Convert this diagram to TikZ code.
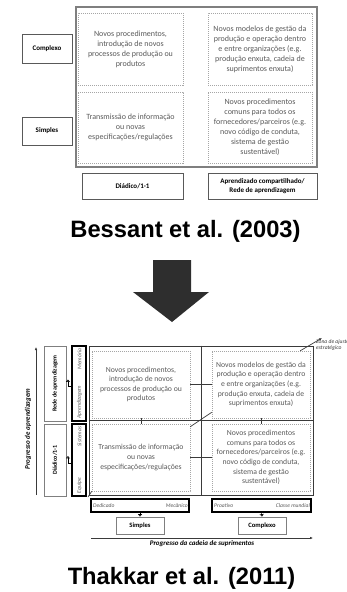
\documentclass[tikz,border=0pt]{standalone}
\usepackage{fontspec}
\setmainfont{Carlito}
\newfontfamily\titlefont{Liberation Sans}
\usetikzlibrary{arrows.meta}

\definecolor{celltext}{HTML}{595959}
\definecolor{dashgray}{HTML}{A6A6A6}
\definecolor{framegray}{HTML}{7F7F7F}
\definecolor{gridline}{HTML}{3A3A3A}
\definecolor{arrowfill}{HTML}{2E2E2E}

\begin{document}
\begin{tikzpicture}[x=1pt,y=-1pt,
  cell/.style={draw=dashgray, dash pattern=on 1.2pt off 0.8pt, line width=0.5pt,
    text=celltext, align=center, inner sep=0pt, font=\fontsize{8}{10}\selectfont},
  cellB/.style={cell, font=\fontsize{7.7}{9.6}\selectfont},
  outerframe/.style={draw=framegray, line width=1.4pt, inner sep=0pt},
  labelbox/.style={draw=celltext, line width=0.8pt, inner sep=0pt, align=center,
    font=\bfseries\fontsize{7}{8.5}\selectfont},
  sidebox/.style={draw=framegray, line width=0.8pt, inner sep=0pt},
  scalebox/.style={draw=black, line width=1.1pt, inner sep=0pt},
  sidetext/.style={rotate=90, inner sep=0pt, font=\bfseries\fontsize{6}{7}\selectfont},
  scaletext/.style={inner sep=0pt, text=celltext, font=\itshape\fontsize{5.6}{6.5}\selectfont},
  levelbox/.style={draw=framegray, line width=0.9pt, inner sep=0pt,
    font=\bfseries\fontsize{6.6}{8}\selectfont},
  axislabel/.style={inner sep=0pt, font=\bfseries\itshape\fontsize{7}{8}\selectfont},
  gridframe/.style={draw=gridline, line width=0.9pt, inner sep=0pt},
  link/.style={draw=gridline, line width=0.7pt},
  turnarrow/.style={draw=black, line width=0.6pt, -{Triangle[open,length=2.4pt,width=4pt]}},
  axisarrow/.style={draw=gridline, line width=0.9pt, -{Latex[length=3pt,width=2.6pt]}},
  title/.style={inner sep=0pt, anchor=base, font=\titlefont\bfseries\fontsize{23.7}{26}\selectfont}
]
\useasboundingbox (0,0) rectangle (347,592);

% ---------- Bessant et al. (2003) ----------
\node[outerframe, minimum width=241pt, minimum height=160pt] (a-frame) at (196.5,87) {};
\node[cell, minimum width=105pt, minimum height=72pt] (a-tl) at (130.5,49)
  {Novos procedimentos,\\introdução de novos\\processos de produção ou\\produtos};
\node[cell, minimum width=104pt, minimum height=72pt] (a-tr) at (260,49)
  {Novos modelos de gestão da\\produção e operação dentro\\e entre organizações (e.g.\\produção enxuta, cadeia de\\suprimentos enxuta)};
\node[cell, minimum width=105pt, minimum height=71pt] (a-bl) at (130.5,127.5)
  {Transmissão de informação\\ou novas\\especificações/regulações};
\node[cell, minimum width=104pt, minimum height=71pt] (a-br) at (260,127.5)
  {Novos procedimentos\\comuns para todos os\\fornecedores/parceiros (e.g.\\novo código de conduta,\\sistema de gestão\\sustentável)};

\node[labelbox, minimum width=50pt, minimum height=29pt] (a-complex) at (47,48.5) {Complexo};
\node[labelbox, minimum width=50pt, minimum height=28pt] (a-simple) at (47,131) {Simples};
\node[labelbox, minimum width=101pt, minimum height=26pt] (a-dyad) at (132.5,186) {Diádico/1-1};
\node[labelbox, minimum width=109pt, minimum height=26pt] (a-net) at (262.5,186)
  {Aprendizado compartilhado/\\Rede de aprendizagem};

\node[title] (a-title) at (185.5,237) {Bessant et al. (2003)};

% ---------- transition arrow ----------
\fill[arrowfill] (153,260) -- (191,260) -- (191,292) -- (209,292) -- (172,322)
  -- (133,292) -- (153,292) -- cycle;

% ---------- Thakkar et al. (2011) ----------
\node[gridframe, minimum width=224pt, minimum height=149pt] (b-grid) at (201,420.5) {};
\draw[gridframe] (b-grid.north) -- (b-grid.south);
\draw[gridframe] (b-grid.west) -- (b-grid.east);

\node[cellB, minimum width=98pt, minimum height=67pt] (b-tl) at (141,384.5)
  {Novos procedimentos,\\introdução de novos\\processos de produção ou\\produtos};
\node[cellB, minimum width=98pt, minimum height=67pt] (b-tr) at (261,384.5)
  {Novos modelos de gestão da\\produção e operação dentro\\e entre organizações (e.g.\\produção enxuta, cadeia de\\suprimentos enxuta)};
\node[cellB, minimum width=98pt, minimum height=67pt] (b-bl) at (141,457.5)
  {Transmissão de informação\\ou novas\\especificações/regulações};
\node[cellB, minimum width=98pt, minimum height=67pt] (b-br) at (261,457.5)
  {Novos procedimentos\\comuns para todos os\\fornecedores/parceiros (e.g.\\novo código de conduta,\\sistema de gestão\\sustentável)};

% links between the cells
\draw[link] (b-tl.east) -- (b-tr.west);
\draw[link] (b-bl.east) -- (b-br.west);
\draw[link] (b-tl.south) -- (b-bl.north);
\draw[link] (b-tr.south) -- (b-br.north);
\draw[link] ([yshift=-3pt]b-bl.north east) -- ([yshift=6pt]b-tr.south west);

% strategic fit zone pointer
\coordinate (zone) at (322,338);
\draw[link, -{Latex[length=3pt,width=2.6pt]}] ([xshift=-10pt]b-tr.north east) -- (zone);
\node[inner sep=0pt, anchor=north west, align=left, text=gridline,
  font=\itshape\fontsize{5.6}{6.2}\selectfont] (zone-label) at (316,339.5)
  {Zona de ajuste\\estratégico};
\coordinate (corner) at (88,497);
\draw[link] (corner) -- (b-bl.south west);

% learning axis (left)
\coordinate (learn-start) at (36,495);
\coordinate (learn-end) at (36,347);
\draw[axisarrow] (learn-start) -- (learn-end);
\node[axislabel, rotate=90] (learn-label) at (28,429) {Progresso de aprendizagem};

\node[sidebox, minimum width=22pt, minimum height=75pt] (b-net) at (55,383.5) {};
\node[sidetext] (b-net-text) at (b-net) {Rede de aprendizagem};
\node[sidebox, minimum width=22pt, minimum height=72pt] (b-dyad) at (55,460) {};
\node[sidetext] (b-dyad-text) at (b-dyad) {Diádico/1-1};

\node[scalebox, minimum width=14pt, minimum height=75pt] (b-learnscale) at (79,383.5) {};
\node[scaletext, rotate=90, anchor=east] (b-memory) at (79.5,348.5) {Memória};
\node[scaletext, rotate=90, anchor=west] (b-learning) at (79.5,418.5) {Aprendizagem};
\node[scalebox, minimum width=14pt, minimum height=72pt] (b-teamscale) at (79,460) {};
\node[scaletext, rotate=90, anchor=east] (b-systems) at (79.5,426.5) {Sistemas};
\node[scaletext, rotate=90, anchor=west] (b-team) at (79.5,493.5) {Equipe};

\draw[turnarrow] ([yshift=-3pt]b-learnscale.west) -- ++(-3.5,0) -- ++(0,-7);
\draw[turnarrow] ([yshift=-3pt]b-teamscale.west) -- ++(-3.5,0) -- ++(0,-7);

% supply chain axis (bottom)
\node[scalebox, minimum width=98pt, minimum height=13pt] (b-simplescale) at (140,505.5) {};
\node[scaletext, anchor=west] (b-dedicated) at (93,505.5) {Dedicado};
\node[scaletext, anchor=east] (b-mechanical) at (188,505.5) {Mecânico};
\node[scalebox, minimum width=99pt, minimum height=13pt] (b-complexscale) at (261.5,505.5) {};
\node[scaletext, anchor=west] (b-proactive) at (214,505.5) {Proativo};
\node[scaletext, anchor=east] (b-worldclass) at (310,505.5) {Classe mundial};

\node[levelbox, minimum width=48pt, minimum height=17pt] (b-simple) at (140,525.5) {Simples};
\node[levelbox, minimum width=48pt, minimum height=17pt] (b-complex) at (262,525.5) {Complexo};
\draw[turnarrow] (b-simplescale.south) -- (b-simple.north);
\draw[turnarrow] (b-complexscale.south) -- (b-complex.north);

\coordinate (chain-start) at (91,538);
\coordinate (chain-end) at (313,538);
\draw[axisarrow] (chain-start) -- (chain-end);
\node[axislabel] (chain-label) at (202,544) {Progresso da cadeia de suprimentos};

\node[title] (b-title) at (181.5,584) {Thakkar et al. (2011)};
\end{tikzpicture}
\end{document}
